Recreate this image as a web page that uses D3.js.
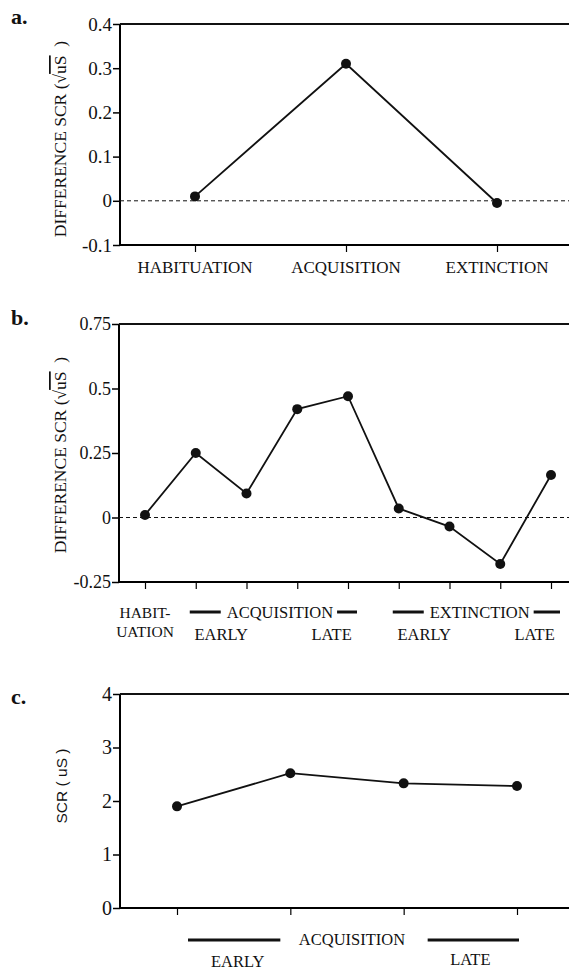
<!DOCTYPE html>
<meta charset="utf-8">
<script src="https://d3js.org/d3.v7.min.js"></script>
<style>
  body { margin: 0; background: #fff; }
  text { font-family: "Liberation Serif", "Times New Roman", serif; fill: #111; }
</style>
<div id="chart"></div>
<script>

// ---- data ----
// panel a
var catsA = ["HABITUATION", "ACQUISITION", "EXTINCTION"]
var valuesA = [0.01, 0.31, -0.005]
var yTicksA = [-0.1, 0, 0.1, 0.2, 0.3, 0.4]
var yTickLabelsA = ["-0.1", "0", "0.1", "0.2", "0.3", "0.4"]

// panel b
var catsB = ["HAB", "ACQ1", "ACQ2", "ACQ3", "ACQ4", "EXT1", "EXT2", "EXT3", "EXT4"]
var valuesB = [0.01, 0.25, 0.093, 0.42, 0.47, 0.035, -0.035, -0.18, 0.165]
var yTicksB = [-0.25, 0, 0.25, 0.5, 0.75]
var yTickLabelsB = ["-0.25", "0", "0.25", "0.5", "0.75"]
var groupsB = [{name: "ACQUISITION", from: 1, to: 4}, {name: "EXTINCTION", from: 5, to: 8}]

// panel c
var catsC = ["ACQ1", "ACQ2", "ACQ3", "ACQ4"]
var valuesC = [1.9, 2.52, 2.33, 2.28]
var yTicksC = [0, 1, 2, 3, 4]
var yTickLabelsC = ["0", "1", "2", "3", "4"]

var width = 569, height = 970
var serif = '"Liberation Serif", "Times New Roman", serif'

var svg = d3.select("#chart")
  .append("svg")
    .attr("width", width)
    .attr("height", height)

// draws one framed panel: left axis, top line, bottom axis, line + dots
function drawPanel(o) {
  var g = svg.append("g")

  var y = d3.scaleLinear().domain(o.yDomain).range([o.bottom, o.top])
  var x = d3.scalePoint().domain(o.cats).range(o.xRange)

  // y axis
  var ya = g.append("g")
    .attr("transform", "translate(" + o.left + ",0)")
    .call(d3.axisLeft(y)
      .tickValues(o.yTicks)
      .tickSize(7)
      .tickPadding(1)
      .tickFormat(function(d, i) { return o.yLabels[i] }))
  ya.attr("font-family", serif).attr("font-size", o.tickFont)
  ya.select(".domain").attr("stroke-width", 2).attr("d", "M0," + o.top + "V" + o.bottom)
  ya.selectAll(".tick line").attr("stroke-width", 1.5)
  ya.selectAll(".tick text")
    .style("font-size", o.tickFont + "px")
    .attr("fill", "#111")

  // top frame line
  g.append("line")
    .attr("x1", o.left).attr("x2", width)
    .attr("y1", o.top).attr("y2", o.top)
    .attr("stroke", "#111").attr("stroke-width", 2)

  // x axis
  var xa = g.append("g")
    .attr("transform", "translate(0," + o.bottom + ")")
    .call(d3.axisBottom(x).tickSize(7).tickFormat(""))
  xa.select(".domain").attr("stroke-width", 2).attr("d", "M" + o.left + ",0H" + width)
  xa.selectAll(".tick line").attr("stroke-width", 1.2)

  // zero line
  if (o.zero) {
    g.append("line")
      .attr("x1", o.left).attr("x2", width)
      .attr("y1", y(0)).attr("y2", y(0))
      .attr("stroke", "#111").attr("stroke-width", 1)
      .attr("stroke-dasharray", "4,3")
  }

  var line = d3.line()
    .x(function(d, i) { return x(o.cats[i]) })
    .y(function(d) { return y(d) })

  g.append("path")
    .datum(o.values)
    .attr("d", line)
    .attr("fill", "none")
    .attr("stroke", "#111")
    .attr("stroke-width", 1.8)

  g.selectAll("circle")
    .data(o.values)
    .enter()
    .append("circle")
      .attr("cx", function(d, i) { return x(o.cats[i]) })
      .attr("cy", function(d) { return y(d) })
      .attr("r", 5)
      .attr("fill", "#111")

  // panel letter
  g.append("text")
    .attr("x", 11).attr("y", o.letterY)
    .style("font-size", "22px")
    .style("font-weight", "bold")
    .text(o.letter)

  return {g: g, x: x, y: y}
}

function yTitle(g, cx, cy, parts, size, fam) {
  var t = g.append("text")
    .attr("transform", "translate(" + cx + "," + cy + ") rotate(-90)")
    .attr("text-anchor", "middle")
    .style("font-size", size + "px")
    .style("white-space", "pre")
  if (fam) t.style("font-family", fam)
  parts.forEach(function(p) {
    var s = t.append("tspan").text(p.t)
    if (p.over) s.style("text-decoration", "overline")
  })
}

// ---- panel a ----
var pa = drawPanel({
  cats: catsA, values: valuesA, yTicks: yTicksA, yLabels: yTickLabelsA,
  yDomain: [-0.1, 0.4], top: 24, bottom: 245, left: 120, xRange: [195, 497],
  tickFont: 19, zero: true, letter: "a.", letterY: 24
})
pa.g.selectAll(".xlab")
  .data(catsA)
  .enter()
  .append("text")
    .attr("x", function(d) { return pa.x(d) })
    .attr("y", 273)
    .attr("text-anchor", "middle")
    .style("font-size", "17px")
    .text(function(d) { return d })
yTitle(pa.g, 66, 139, [{t: "DIFFERENCE SCR ("}, {t: "\u221A"}, {t: "uS", over: true}, {t: "  )"}], 17.5)

// ---- panel b ----
var pb = drawPanel({
  cats: catsB, values: valuesB, yTicks: yTicksB, yLabels: yTickLabelsB,
  yDomain: [-0.25, 0.75], top: 324, bottom: 582, left: 119, xRange: [145, 551],
  tickFont: 18, zero: true, letter: "b.", letterY: 325
})
var hx = pb.x(catsB[0])
pb.g.append("text").attr("x", hx).attr("y", 618).attr("text-anchor", "middle")
  .style("font-size", "15.5px").text("HABIT-")
pb.g.append("text").attr("x", hx).attr("y", 637).attr("text-anchor", "middle")
  .style("font-size", "15.5px").text("UATION")

groupsB.forEach(function(gr) {
  var x0 = pb.x(catsB[gr.from]), x1 = pb.x(catsB[gr.to])
  var t = pb.g.append("text")
    .attr("x", x0 + 31).attr("y", 618)
    .style("font-size", "16.5px")
    .text(gr.name)
  var tw = t.node().getComputedTextLength()
  pb.g.append("line")
    .attr("x1", x0 - 6).attr("x2", x0 + 25).attr("y1", 612).attr("y2", 612)
    .attr("stroke", "#111").attr("stroke-width", 3)
  pb.g.append("line")
    .attr("x1", x0 + 31 + tw + 4).attr("x2", x1 + 9).attr("y1", 612).attr("y2", 612)
    .attr("stroke", "#111").attr("stroke-width", 3)
  // EARLY / LATE under each pair of ticks
  var xe = (pb.x(catsB[gr.from]) + pb.x(catsB[gr.from + 1])) / 2
  var xl = (pb.x(catsB[gr.to - 1]) + pb.x(catsB[gr.to])) / 2 + 9
  pb.g.append("text").attr("x", xe).attr("y", 640).attr("text-anchor", "middle")
    .style("font-size", "16.5px").text("EARLY")
  pb.g.append("text").attr("x", xl).attr("y", 640).attr("text-anchor", "middle")
    .style("font-size", "16.5px").text("LATE")
})
yTitle(pb.g, 66, 455, [{t: "DIFFERENCE SCR ("}, {t: "\u221A"}, {t: "uS", over: true}, {t: "  )"}], 17.5)

// ---- panel c ----
var pc = drawPanel({
  cats: catsC, values: valuesC, yTicks: yTicksC, yLabels: yTickLabelsC,
  yDomain: [0, 4], top: 694, bottom: 908, left: 120, xRange: [177, 517],
  tickFont: 20, zero: false, letter: "c.", letterY: 704
})
var c0 = pc.x(catsC[0]), c1 = pc.x(catsC[1]), c2 = pc.x(catsC[2]), c3 = pc.x(catsC[3])
pc.g.append("line").attr("x1", c0 + 11).attr("x2", c1 - 10).attr("y1", 940).attr("y2", 940)
  .attr("stroke", "#111").attr("stroke-width", 3)
pc.g.append("line").attr("x1", c2 + 24).attr("x2", c3 + 2).attr("y1", 940).attr("y2", 940)
  .attr("stroke", "#111").attr("stroke-width", 3)
pc.g.append("text").attr("x", (c1 + c2) / 2 + 5).attr("y", 945).attr("text-anchor", "middle")
  .style("font-size", "16.5px").text("ACQUISITION")
pc.g.append("text").attr("x", (c0 + c1) / 2 + 4).attr("y", 967).attr("text-anchor", "middle")
  .style("font-size", "16.5px").text("EARLY")
pc.g.append("text").attr("x", (c2 + c3) / 2 + 10).attr("y", 965).attr("text-anchor", "middle")
  .style("font-size", "16.5px").text("LATE")
yTitle(pc.g, 67, 786, [{t: "SCR ( uS )"}], 15.5, '"Liberation Sans", Arial, sans-serif')

</script>
